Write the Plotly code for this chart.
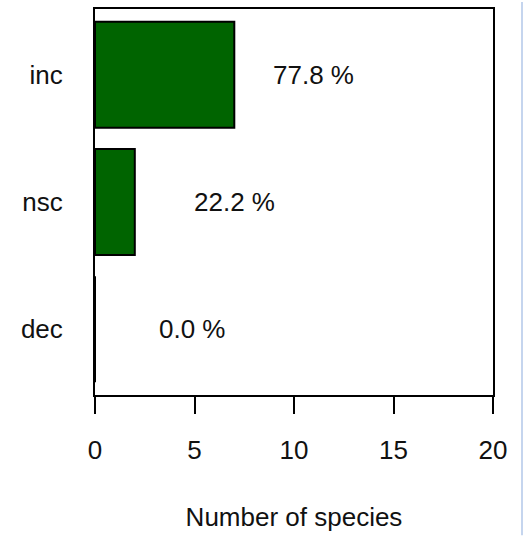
import plotly.graph_objects as go

categories = ["dec", "nsc", "inc"]
counts = [0, 2, 7]
label_x = [4.9, 7.0, 11.0]
x_ticks = [0, 5, 10, 15, 20]

total = sum(counts)
labels = [f"{100 * c / total:.1f} %" for c in counts]

FONT = "Liberation Sans, Arial, sans-serif"
TXT = "#111111"

fig = go.Figure()
fig.add_trace(go.Bar(
    y=categories, x=counts, orientation="h",
    marker=dict(color="#006400", line=dict(color="black", width=2)),
    width=0.833, hoverinfo="skip",
))

for cat, lx, lab in zip(categories, label_x, labels):
    fig.add_annotation(x=lx, y=cat, text=lab, showarrow=False,
                       xanchor="center", yanchor="middle",
                       font=dict(family=FONT, size=26, color=TXT))

fig.add_shape(type="rect", xref="paper", yref="paper",
              x0=1.0 + 28 / 398, x1=1.0 + 32 / 398, y0=-141 / 388, y1=1 + 7 / 388,
              fillcolor="#c5d5ee", line=dict(width=0), layer="below")

fig.update_layout(
    width=523, height=536,
    margin=dict(l=95, r=30, t=7, b=141),
    paper_bgcolor="white", plot_bgcolor="white",
    showlegend=False,
    font=dict(family=FONT, size=26, color=TXT),
    xaxis=dict(
        range=[0, 20], tickvals=x_ticks, ticktext=[str(t) for t in x_ticks],
        showgrid=False, zeroline=False,
        showline=True, linecolor="black", linewidth=2, mirror=True,
        ticks="outside", ticklen=17, tickwidth=2, tickcolor="black",
        ticklabelstandoff=14,
        title=dict(text="Number of species", standoff=44,
                   font=dict(family=FONT, size=26, color=TXT)),
        tickfont=dict(family=FONT, size=26, color=TXT),
    ),
    yaxis=dict(
        type="category", categoryorder="array", categoryarray=categories,
        range=[-0.516, 2.516],
        showgrid=False, zeroline=False,
        showline=True, linecolor="black", linewidth=2, mirror=True,
        ticks="", ticklabelstandoff=25,
        tickfont=dict(family=FONT, size=26, color=TXT),
    ),
)

fig.write_html("out.html", config={"displayModeBar": False},
               post_script="document.body.style.margin='0';document.body.style.overflow='hidden';")
